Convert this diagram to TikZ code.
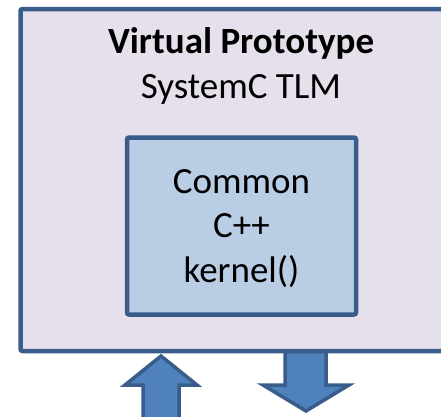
\documentclass[tikz,border=0pt]{standalone}
\usepackage{fontspec}
\setmainfont{Carlito}
\definecolor{edgeblue}{HTML}{385D8A}
\definecolor{lavender}{HTML}{E6E0EC}
\definecolor{paleblue}{HTML}{B9CDE5}
\definecolor{arrowblue}{HTML}{4F81BD}
\begin{document}
\begin{tikzpicture}[x=1pt,y=-1pt,
  frame/.style={draw=edgeblue, line width=4.5pt, rounded corners=2pt,
    inner sep=0pt, outer sep=0pt},
  blockarrow/.style={draw=edgeblue, fill=arrowblue, line width=3.5pt,
    line join=miter},
  label/.style={align=center, anchor=base, inner sep=0pt,
    font=\fontsize{37}{44.5}\selectfont}]
\useasboundingbox (0,0) rectangle (441,416);

% interface arrows below the prototype box
\coordinate (upTip) at (161,356);
\draw[blockarrow] (upTip) -- (197,385) -- (179,385) -- (179,425)
  -- (143,425) -- (143,385) -- (125,385) -- cycle;
\coordinate (downTip) at (306,411);
\draw[blockarrow] (285,350) -- (326,350) -- (326,385) -- (349,385)
  -- (downTip) -- (263,385) -- (285,385) -- cycle;

% outer prototype box (runs past the right edge)
\node[frame, fill=lavender, anchor=north west,
  minimum width=450pt, minimum height=342pt] (vp) at (20.5,9) {};
% base anchor sits on the last line of each label
\node[label] (vptext) at (241,98) {\textbf{Virtual Prototype}\\SystemC TLM};

% inner kernel box
\node[frame, fill=paleblue, minimum width=229pt, minimum height=177pt]
  (kernel) at (241.5,226) {};
\node[label] (kerneltext) at (241.5,282) {Common\\C++\\kernel()};
\end{tikzpicture}
\end{document}
